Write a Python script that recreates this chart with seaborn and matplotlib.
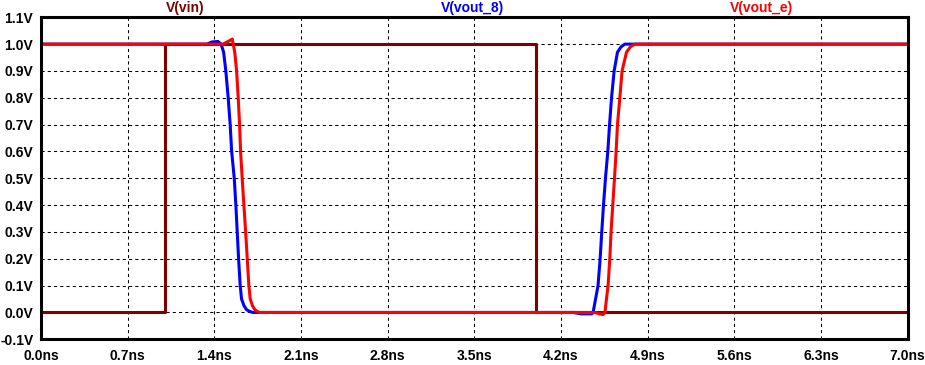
import matplotlib
matplotlib.use("Agg")
import matplotlib.pyplot as plt
import seaborn as sns
import pandas as pd
import numpy as np

# ---- data (ns, V) ----
t_vin = [0.0, 1.0, 1.0, 4.0, 4.0, 7.0]
v_vin = [0.0, 0.0, 1.0, 1.0, 0.0, 0.0]

t_vout8 = [0.0, 1.34, 1.38, 1.43, 1.455, 1.475, 1.493, 1.512, 1.528, 1.540, 1.561, 1.574,
           1.585, 1.596, 1.609, 1.620, 1.640, 1.661, 1.690, 1.712,
           4.30, 4.36, 4.449, 4.459, 4.499, 4.516, 4.529, 4.543, 4.559, 4.578,
           4.592, 4.608, 4.629, 4.656, 4.685, 4.715, 7.0]
v_vout8 = [1.0, 1.0, 1.008, 1.01, 1.0, 0.97, 0.9, 0.8, 0.7, 0.6, 0.5, 0.4,
           0.3, 0.2, 0.1, 0.05, 0.025, 0.01, 0.003, 0.0,
           0.0, -0.005, -0.005, 0.0, 0.1, 0.2, 0.3, 0.4, 0.5, 0.6,
           0.7, 0.8, 0.9, 0.97, 0.99, 1.0, 1.0]

t_voute = [0.0, 1.469, 1.52, 1.545, 1.565, 1.58, 1.593, 1.604, 1.612, 1.625, 1.639,
           1.653, 1.666, 1.679, 1.690, 1.708, 1.728, 1.750, 1.768,
           4.473, 4.52, 4.540, 4.555, 4.567, 4.580, 4.594, 4.604, 4.618, 4.632, 4.645,
           4.656, 4.675, 4.693, 4.729, 4.76, 4.796, 7.0]
v_voute = [1.0, 1.0, 1.012, 1.019, 0.97, 0.9, 0.8, 0.7, 0.6, 0.5, 0.4,
           0.3, 0.2, 0.1, 0.05, 0.025, 0.01, 0.003, 0.0,
           0.0, -0.006, -0.008, 0.0, 0.05, 0.1, 0.2, 0.3, 0.4, 0.5, 0.6,
           0.7, 0.8, 0.9, 0.97, 0.99, 1.0, 1.0]

x_ticks = [0.0, 0.7, 1.4, 2.1, 2.8, 3.5, 4.2, 4.9, 5.6, 6.3, 7.0]
y_ticks = [-0.1, 0.0, 0.1, 0.2, 0.3, 0.4, 0.5, 0.6, 0.7, 0.8, 0.9, 1.0, 1.1]

series = [("V(vin)", t_vin, v_vin, "#800000"),
          ("V(vout_8)", t_vout8, v_vout8, "#0000ff"),
          ("V(vout_e)", t_voute, v_voute, "#ff0000")]

sns.set_theme(style="white")
plt.rcParams['font.family'] = ['Liberation Sans', 'DejaVu Sans']
plt.rcParams['font.weight'] = 'bold'

fig = plt.figure(figsize=(9.25, 3.65), dpi=100)
ax = fig.add_axes([0.0443, 0.0704, 0.937, 0.8822])

for name, t, v, c in series:
    df = pd.DataFrame({"t": t, "v": v})
    sns.lineplot(data=df, x="t", y="v", ax=ax, color=c, linewidth=2.2,
                 sort=False, estimator=None, errorbar=None)

ax.set_xlim(0, 7.0)
ax.set_ylim(-0.1, 1.1)
ax.set_xticks(x_ticks)
ax.set_yticks(y_ticks)
fs = 10
ax.set_xticklabels([f"{x:.1f}ns" for x in x_ticks], fontsize=fs, fontweight='bold')
ax.set_yticklabels([f"{y:.1f}V" for y in y_ticks], fontsize=fs, fontweight='bold')
ax.set_xlabel("")
ax.set_ylabel("")
ax.grid(True, color="black", linestyle=(0, (3, 3)), linewidth=0.75)
ax.tick_params(axis='both', direction='out', length=5, width=1.6, color='black',
               pad=0.5, labelcolor='black')
ax.tick_params(axis='x', pad=2)
for s in ax.spines.values():
    s.set_color("black")
    s.set_linewidth(2.2)
    s.set_visible(True)

title_x = [0.200, 0.5108, 0.8238]
for (name, t, v, c), tx in zip(series, title_x):
    fig.text(tx, 0.979, name, color=c, ha='center', va='center',
             fontsize=fs, fontweight='bold')

fig.savefig("out.png", dpi=100, facecolor="white")
